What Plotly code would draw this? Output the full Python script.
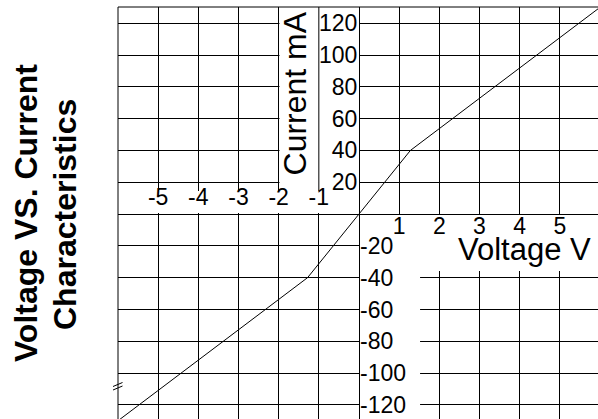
import plotly.graph_objects as go

# ---- data ----
voltage = [-6, -1.28, 0, 1.28, 6]          # V
current = [-130, -40, 0, 40, 130]          # mA

x_neg_ticks = [-5, -4, -3, -2, -1]
x_pos_ticks = [1, 2, 3, 4, 5]
y_pos_ticks = [20, 40, 60, 80, 100, 120]
y_neg_ticks = [-20, -40, -60, -80, -100, -120]

x_range = [-6, 5.95]
y_range = [-128.9, 130.2]

title_lines = ["Voltage VS. Current", "Characteristics"]
y_title = "Current mA"
x_title = "Voltage V"

FONT = "Liberation Sans, Arial, sans-serif"
W, H = 598, 419
ML, MT = 118, 7
PW, PH = W - ML, H - MT

# axis positions (fraction of plot area) where the zero lines sit
pos_x0 = (0 - x_range[0]) / (x_range[1] - x_range[0])
pos_y0 = (0 - y_range[0]) / (y_range[1] - y_range[0])

fig = go.Figure()
fig.add_trace(go.Scatter(x=voltage, y=current, mode="lines",
                         line=dict(color="black", width=1),
                         xaxis="x", yaxis="y", hoverinfo="skip"))
# helper (empty) traces so the overlaying axes get drawn
fig.add_trace(go.Scatter(x=[None], y=[None], xaxis="x2", yaxis="y",
                         showlegend=False, hoverinfo="skip"))
fig.add_trace(go.Scatter(x=[None], y=[None], xaxis="x", yaxis="y2",
                         showlegend=False, hoverinfo="skip"))

tickfont = dict(family=FONT, size=23, color="black")
common = dict(showgrid=True, gridcolor="black", gridwidth=1, zeroline=False,
              ticks="", tickfont=tickfont, fixedrange=True, tickmode="array")

fig.update_layout(
    width=W, height=H,
    margin=dict(l=ML, r=0, t=MT, b=0, pad=0),
    paper_bgcolor="white", plot_bgcolor="white",
    showlegend=False,
    xaxis=dict(range=x_range, tickvals=x_neg_ticks,
               ticktext=[str(v) for v in x_neg_ticks],
               side="top", anchor="free", position=pos_y0,
               showline=True, linecolor="black", linewidth=1, **common),
    xaxis2=dict(range=x_range, tickvals=x_pos_ticks,
                ticktext=[str(v) for v in x_pos_ticks],
                side="bottom", anchor="free", position=pos_y0,
                overlaying="x", showline=False, ticklabelstandoff=-4,
                **common),
    yaxis=dict(range=y_range, tickvals=y_pos_ticks,
               ticktext=[str(v) for v in y_pos_ticks],
               side="left", anchor="free", position=pos_x0,
               showline=True, linecolor="black", linewidth=1,
               ticklabelstandoff=-3, **common),
    yaxis2=dict(range=y_range, tickvals=y_neg_ticks,
                ticktext=[str(v) for v in y_neg_ticks],
                side="right", anchor="free", position=pos_x0,
                overlaying="y", showline=False, **common),
)

white = dict(type="rect", xref="x", yref="y", fillcolor="white",
             line=dict(width=0), layer="between")
shapes = [
    dict(white, x0=-1.98, x1=0, y0=0.6, y1=y_range[1] + 5),
    dict(white, x0=x_range[0], x1=0, y0=0.6, y1=14.5),
    dict(type="line", xref="x", yref="y", x0=-1, x1=-1, y0=14.5,
         y1=y_range[1] + 5, line=dict(color="black", width=1), layer="between"),
    dict(white, x0=0, x1=x_range[1] + 1, y0=-35.8, y1=-0.6),
    dict(white, x0=0, x1=1.52, y0=y_range[0] - 5, y1=-0.6),
    # frame (top and left)
    dict(type="line", xref="paper", yref="paper", x0=0, x1=1, y0=1, y1=1,
         line=dict(color="black", width=1), layer="above"),
    dict(type="line", xref="paper", yref="paper", x0=0, x1=0, y0=0, y1=1,
         line=dict(color="black", width=1), layer="above"),
]


def px2paper(px, py):
    return (px - ML) / PW, 1 - (py - MT) / PH


# small axis-break mark on the left border
for dy in (0, 3.5):
    ax0, ay0 = px2paper(113, 386.5 + dy)
    ax1, ay1 = px2paper(122.5, 382.5 + dy)
    shapes.append(dict(type="line", xref="paper", yref="paper",
                       x0=ax0, y0=ay0, x1=ax1, y1=ay1,
                       line=dict(color="black", width=1), layer="above"))
fig.update_layout(shapes=shapes)

ann = [
    dict(text=y_title, x=-1.606, y=75.5, xref="x", yref="y", textangle=-90,
         showarrow=False, xanchor="center", yanchor="middle",
         font=dict(family=FONT, size=32, color="black")),
    dict(text=x_title, x=4.11, y=-22.6, xref="x", yref="y",
         showarrow=False, xanchor="center", yanchor="middle",
         font=dict(family=FONT, size=31, color="black")),
]
for txt, cx, cy in zip(title_lines, (26.7, 65.0), (213.4, 215.0)):
    ax, ay = px2paper(cx, cy)
    ann.append(dict(text="<b>" + txt + "</b>", x=ax, y=ay, xref="paper",
                    yref="paper", textangle=-90, showarrow=False,
                    xanchor="center", yanchor="middle",
                    font=dict(family=FONT, size=32, color="black")))
fig.update_layout(annotations=ann)

fig.write_html("out.html",
               config={"displayModeBar": False, "staticPlot": True},
               post_script="document.body.style.margin='0';"
                           "document.body.style.overflow='hidden';")
